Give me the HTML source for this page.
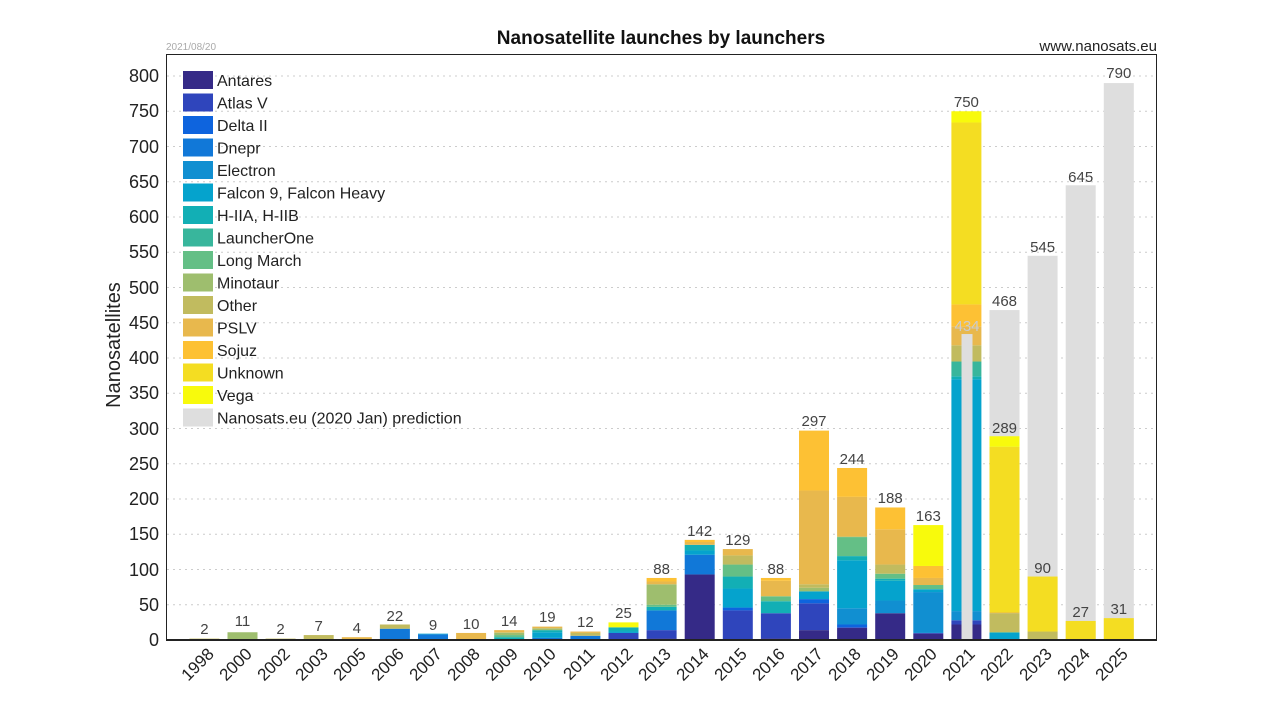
<!DOCTYPE html>
<html><head><meta charset="utf-8"><style>
html,body{margin:0;padding:0;background:#fff}
svg{display:block;font-family:"Liberation Sans",sans-serif}
.a{fill:#352a87}.b{fill:#2f45bc}.c{fill:#0e64de}.d{fill:#1178d8}.e{fill:#118fd1}.f{fill:#05a3cd}.g{fill:#12afb5}.h{fill:#38b69c}.i{fill:#64bf86}.j{fill:#9ebe6e}.k{fill:#c1bb5f}.l{fill:#e8b84d}.m{fill:#fdc134}.n{fill:#f4dd22}.o{fill:#f8fa0c}.p{fill:#dedede}
.v{font-size:15px;fill:#444;text-anchor:middle}
.x{font-size:17px;fill:#222;text-anchor:end}
.y{font-size:18px;fill:#222;text-anchor:end}
.lg{font-size:16px;fill:#222}
</style></head><body>
<svg width="1280" height="720" viewBox="0 0 1280 720">
<text x="661" y="44" text-anchor="middle" font-size="19" font-weight="bold" fill="#111">Nanosatellite launches by launchers</text>
<text x="166" y="50" font-size="10" fill="#aaa">2021/08/20</text>
<text x="1157" y="51" text-anchor="end" font-size="15" fill="#222">www.nanosats.eu</text>
<g stroke="#ccc" stroke-dasharray="2,4" stroke-width="1">
<line x1="167" x2="1156" y1="604.75" y2="604.75"/><line x1="167" x2="1156" y1="569.5" y2="569.5"/><line x1="167" x2="1156" y1="534.25" y2="534.25"/><line x1="167" x2="1156" y1="499" y2="499"/><line x1="167" x2="1156" y1="463.75" y2="463.75"/><line x1="167" x2="1156" y1="428.5" y2="428.5"/><line x1="167" x2="1156" y1="393.25" y2="393.25"/><line x1="167" x2="1156" y1="358" y2="358"/><line x1="167" x2="1156" y1="322.75" y2="322.75"/><line x1="167" x2="1156" y1="287.5" y2="287.5"/><line x1="167" x2="1156" y1="252.25" y2="252.25"/><line x1="167" x2="1156" y1="217" y2="217"/><line x1="167" x2="1156" y1="181.75" y2="181.75"/><line x1="167" x2="1156" y1="146.5" y2="146.5"/><line x1="167" x2="1156" y1="111.25" y2="111.25"/><line x1="167" x2="1156" y1="76" y2="76"/>
</g>
<g transform="translate(0,640) scale(1,-0.705)">
<rect class="k" x="189.4" y="0" width="30" height="2"/>
<rect class="j" x="227.5" y="0" width="30" height="11"/>
<rect class="k" x="265.6" y="0" width="30" height="2"/>
<rect class="k" x="303.7" y="0" width="30" height="7"/>
<rect class="l" x="341.8" y="0" width="30" height="4"/>
<rect class="d" x="379.9" y="0" width="30" height="16"/><rect class="k" x="379.9" y="16" width="30" height="6"/>
<rect class="d" x="418" y="0" width="30" height="8"/><rect class="f" x="418" y="8" width="30" height="1"/>
<rect class="l" x="456.1" y="0" width="30" height="10"/>
<rect class="g" x="494.2" y="0" width="30" height="4"/><rect class="i" x="494.2" y="4" width="30" height="3"/><rect class="j" x="494.2" y="7" width="30" height="3"/><rect class="k" x="494.2" y="10" width="30" height="1"/><rect class="l" x="494.2" y="11" width="30" height="3"/>
<rect class="d" x="532.3" y="0" width="30" height="3"/><rect class="f" x="532.3" y="3" width="30" height="8"/><rect class="g" x="532.3" y="11" width="30" height="3"/><rect class="j" x="532.3" y="14" width="30" height="2"/><rect class="k" x="532.3" y="16" width="30" height="1"/><rect class="l" x="532.3" y="17" width="30" height="2"/>
<rect class="d" x="570.4" y="0" width="30" height="6"/><rect class="k" x="570.4" y="6" width="30" height="4"/><rect class="l" x="570.4" y="10" width="30" height="2"/>
<rect class="b" x="608.5" y="0" width="30" height="10"/><rect class="f" x="608.5" y="10" width="30" height="2"/><rect class="g" x="608.5" y="12" width="30" height="6"/><rect class="o" x="608.5" y="18" width="30" height="7"/>
<rect class="a" x="646.6" y="0" width="30" height="2"/><rect class="b" x="646.6" y="2" width="30" height="12"/><rect class="d" x="646.6" y="14" width="30" height="28"/><rect class="g" x="646.6" y="42" width="30" height="5"/><rect class="i" x="646.6" y="47" width="30" height="3"/><rect class="j" x="646.6" y="50" width="30" height="29"/><rect class="l" x="646.6" y="79" width="30" height="4"/><rect class="m" x="646.6" y="83" width="30" height="5"/>
<rect class="a" x="684.7" y="0" width="30" height="93"/><rect class="d" x="684.7" y="93" width="30" height="28"/><rect class="f" x="684.7" y="121" width="30" height="6"/><rect class="g" x="684.7" y="127" width="30" height="8"/><rect class="l" x="684.7" y="135" width="30" height="4"/><rect class="m" x="684.7" y="139" width="30" height="3"/>
<rect class="b" x="722.8" y="0" width="30" height="42"/><rect class="c" x="722.8" y="42" width="30" height="4"/><rect class="f" x="722.8" y="46" width="30" height="27"/><rect class="g" x="722.8" y="73" width="30" height="17"/><rect class="i" x="722.8" y="90" width="30" height="17"/><rect class="k" x="722.8" y="107" width="30" height="13"/><rect class="l" x="722.8" y="120" width="30" height="9"/>
<rect class="a" x="760.9" y="0" width="30" height="2"/><rect class="b" x="760.9" y="2" width="30" height="36"/><rect class="g" x="760.9" y="38" width="30" height="17"/><rect class="i" x="760.9" y="55" width="30" height="7"/><rect class="l" x="760.9" y="62" width="30" height="22"/><rect class="m" x="760.9" y="84" width="30" height="4"/>
<rect class="a" x="799" y="0" width="30" height="14"/><rect class="b" x="799" y="14" width="30" height="38"/><rect class="c" x="799" y="52" width="30" height="6"/><rect class="f" x="799" y="58" width="30" height="11"/><rect class="j" x="799" y="69" width="30" height="5"/><rect class="k" x="799" y="74" width="30" height="5"/><rect class="l" x="799" y="79" width="30" height="133"/><rect class="m" x="799" y="212" width="30" height="85"/>
<rect class="a" x="837.1" y="0" width="30" height="17"/><rect class="b" x="837.1" y="17" width="30" height="1"/><rect class="c" x="837.1" y="18" width="30" height="4"/><rect class="e" x="837.1" y="22" width="30" height="23"/><rect class="f" x="837.1" y="45" width="30" height="68"/><rect class="g" x="837.1" y="113" width="30" height="6"/><rect class="i" x="837.1" y="119" width="30" height="27"/><rect class="k" x="837.1" y="146" width="30" height="1"/><rect class="l" x="837.1" y="147" width="30" height="56"/><rect class="m" x="837.1" y="203" width="30" height="41"/>
<rect class="a" x="875.2" y="0" width="30" height="38"/><rect class="e" x="875.2" y="38" width="30" height="18"/><rect class="f" x="875.2" y="56" width="30" height="28"/><rect class="g" x="875.2" y="84" width="30" height="3"/><rect class="i" x="875.2" y="87" width="30" height="7"/><rect class="k" x="875.2" y="94" width="30" height="13"/><rect class="l" x="875.2" y="107" width="30" height="50"/><rect class="m" x="875.2" y="157" width="30" height="31"/>
<rect class="a" x="913.3" y="0" width="30" height="9"/><rect class="b" x="913.3" y="9" width="30" height="1"/><rect class="e" x="913.3" y="10" width="30" height="58"/><rect class="f" x="913.3" y="68" width="30" height="4"/><rect class="i" x="913.3" y="72" width="30" height="6"/><rect class="l" x="913.3" y="78" width="30" height="10"/><rect class="m" x="913.3" y="88" width="30" height="17"/><rect class="o" x="913.3" y="105" width="30" height="58"/>
<rect class="a" x="951.4" y="0" width="30" height="22"/><rect class="b" x="951.4" y="22" width="30" height="6"/><rect class="e" x="951.4" y="28" width="30" height="13"/><rect class="f" x="951.4" y="41" width="30" height="329"/><rect class="g" x="951.4" y="370" width="30" height="4"/><rect class="h" x="951.4" y="374" width="30" height="21"/><rect class="k" x="951.4" y="395" width="30" height="23"/><rect class="l" x="951.4" y="418" width="30" height="27"/><rect class="m" x="951.4" y="445" width="30" height="31"/><rect class="n" x="951.4" y="476" width="30" height="258"/><rect class="o" x="951.4" y="734" width="30" height="16"/>
<rect class="p" x="961.5" y="0" width="11" height="434"/>
<rect class="p" x="989.5" y="0" width="30" height="468"/><rect class="f" x="989.5" y="0" width="30" height="10"/><rect class="g" x="989.5" y="10" width="30" height="1"/><rect class="k" x="989.5" y="11" width="30" height="27"/><rect class="l" x="989.5" y="38" width="30" height="1"/><rect class="n" x="989.5" y="39" width="30" height="235"/><rect class="o" x="989.5" y="274" width="30" height="15"/>
<rect class="p" x="1027.6" y="0" width="30" height="545"/><rect class="k" x="1027.6" y="0" width="30" height="12"/><rect class="n" x="1027.6" y="12" width="30" height="78"/>
<rect class="p" x="1065.7" y="0" width="30" height="645"/><rect class="n" x="1065.7" y="0" width="30" height="27"/>
<rect class="p" x="1103.8" y="0" width="30" height="790"/><rect class="n" x="1103.8" y="0" width="30" height="31"/>
</g>
<rect x="166.5" y="54.5" width="990" height="585.5" fill="none" stroke="#222" stroke-width="1"/>
<line x1="166" x2="1157" y1="640" y2="640" stroke="#222" stroke-width="2"/>
<g class="v">
<text x="204.4" y="634">2</text><text x="242.5" y="626">11</text><text x="280.6" y="634">2</text><text x="318.7" y="631">7</text><text x="356.8" y="633">4</text><text x="394.9" y="621">22</text><text x="433" y="630">9</text><text x="471.1" y="629">10</text><text x="509.2" y="626">14</text><text x="547.3" y="622">19</text><text x="585.4" y="627">12</text><text x="623.5" y="618">25</text><text x="661.6" y="574">88</text><text x="699.7" y="536">142</text><text x="737.8" y="545">129</text><text x="775.9" y="574">88</text><text x="814" y="426">297</text><text x="852.1" y="464">244</text><text x="890.2" y="503">188</text><text x="928.3" y="521">163</text><text x="966.4" y="107">750</text><text x="967" y="331" style="fill:#ccc">434</text><text x="1004.5" y="306">468</text><text x="1004.5" y="433">289</text><text x="1042.6" y="252">545</text><text x="1042.6" y="573">90</text><text x="1080.7" y="182">645</text><text x="1080.7" y="617">27</text><text x="1118.8" y="78">790</text><text x="1118.8" y="614">31</text>
</g>
<g class="y">
<text x="159" y="646">0</text><text x="159" y="611">50</text><text x="159" y="576">100</text><text x="159" y="540">150</text><text x="159" y="505">200</text><text x="159" y="470">250</text><text x="159" y="435">300</text><text x="159" y="399">350</text><text x="159" y="364">400</text><text x="159" y="329">450</text><text x="159" y="294">500</text><text x="159" y="258">550</text><text x="159" y="223">600</text><text x="159" y="188">650</text><text x="159" y="153">700</text><text x="159" y="117">750</text><text x="159" y="82">800</text>
</g>
<text transform="translate(120,345) rotate(-90)" text-anchor="middle" font-size="20" fill="#222">Nanosatellites</text>
<g class="x">
<text transform="translate(215,655) rotate(-45)">1998</text><text transform="translate(253,655) rotate(-45)">2000</text><text transform="translate(291,655) rotate(-45)">2002</text><text transform="translate(329,655) rotate(-45)">2003</text><text transform="translate(367,655) rotate(-45)">2005</text><text transform="translate(405,655) rotate(-45)">2006</text><text transform="translate(443,655) rotate(-45)">2007</text><text transform="translate(481,655) rotate(-45)">2008</text><text transform="translate(519,655) rotate(-45)">2009</text><text transform="translate(557,655) rotate(-45)">2010</text><text transform="translate(596,655) rotate(-45)">2011</text><text transform="translate(634,655) rotate(-45)">2012</text><text transform="translate(672,655) rotate(-45)">2013</text><text transform="translate(710,655) rotate(-45)">2014</text><text transform="translate(748,655) rotate(-45)">2015</text><text transform="translate(786,655) rotate(-45)">2016</text><text transform="translate(824,655) rotate(-45)">2017</text><text transform="translate(862,655) rotate(-45)">2018</text><text transform="translate(900,655) rotate(-45)">2019</text><text transform="translate(938,655) rotate(-45)">2020</text><text transform="translate(976,655) rotate(-45)">2021</text><text transform="translate(1014,655) rotate(-45)">2022</text><text transform="translate(1053,655) rotate(-45)">2023</text><text transform="translate(1091,655) rotate(-45)">2024</text><text transform="translate(1129,655) rotate(-45)">2025</text>
</g>
<g>
<rect class="a" x="183" y="71" width="30" height="18"/><rect class="b" x="183" y="93.5" width="30" height="18"/><rect class="c" x="183" y="116" width="30" height="18"/><rect class="d" x="183" y="138.5" width="30" height="18"/><rect class="e" x="183" y="161" width="30" height="18"/><rect class="f" x="183" y="183.5" width="30" height="18"/><rect class="g" x="183" y="206" width="30" height="18"/><rect class="h" x="183" y="228.5" width="30" height="18"/><rect class="i" x="183" y="251" width="30" height="18"/><rect class="j" x="183" y="273.5" width="30" height="18"/><rect class="k" x="183" y="296" width="30" height="18"/><rect class="l" x="183" y="318.5" width="30" height="18"/><rect class="m" x="183" y="341" width="30" height="18"/><rect class="n" x="183" y="363.5" width="30" height="18"/><rect class="o" x="183" y="386" width="30" height="18"/><rect class="p" x="183" y="408.5" width="30" height="18"/>
</g>
<g class="lg">
<text x="217" y="86">Antares</text><text x="217" y="108.5">Atlas V</text><text x="217" y="131">Delta II</text><text x="217" y="153.5">Dnepr</text><text x="217" y="176">Electron</text><text x="217" y="198.5">Falcon 9, Falcon Heavy</text><text x="217" y="221">H-IIA, H-IIB</text><text x="217" y="243.5">LauncherOne</text><text x="217" y="266">Long March</text><text x="217" y="288.5">Minotaur</text><text x="217" y="311">Other</text><text x="217" y="333.5">PSLV</text><text x="217" y="356">Sojuz</text><text x="217" y="378.5">Unknown</text><text x="217" y="401">Vega</text><text x="217" y="423.5">Nanosats.eu (2020 Jan) prediction</text>
</g>
</svg>
</body></html>
